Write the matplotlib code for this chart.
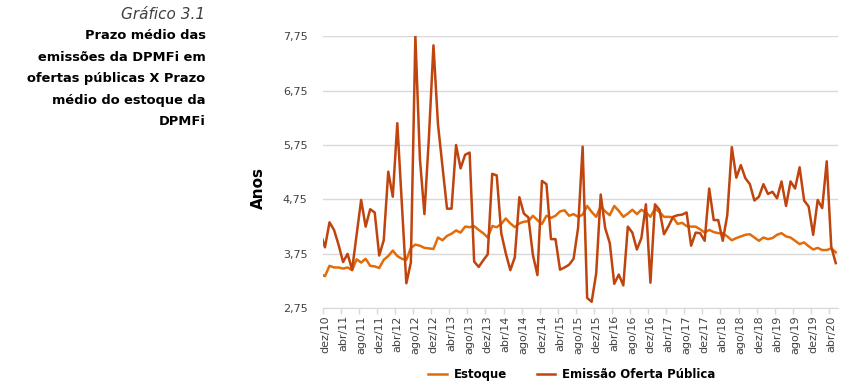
import numpy as np
import matplotlib
matplotlib.use('Agg')
import matplotlib.pyplot as plt

# monthly series, nov/10 (partly hidden at the left edge) to mai/20
estoque = [3.38,
           3.34, 3.53, 3.50, 3.50, 3.48, 3.50, 3.45, 3.65, 3.59, 3.66, 3.53, 3.52,
           3.49, 3.64, 3.71, 3.81, 3.71, 3.66, 3.64, 3.86, 3.92, 3.90, 3.86, 3.85,
           3.84, 4.05, 4.00, 4.08, 4.12, 4.18, 4.14, 4.25, 4.24, 4.26, 4.19, 4.13,
           4.05, 4.26, 4.24, 4.30, 4.40, 4.31, 4.24, 4.31, 4.34, 4.35, 4.45, 4.37,
           4.30, 4.45, 4.41, 4.45, 4.53, 4.55, 4.45, 4.48, 4.43, 4.47, 4.63, 4.52,
           4.43, 4.62, 4.53, 4.46, 4.63, 4.54, 4.43, 4.49, 4.56, 4.48, 4.56, 4.51,
           4.43, 4.58, 4.52, 4.43, 4.43, 4.42, 4.30, 4.32, 4.26, 4.25, 4.25, 4.20,
           4.14, 4.19, 4.15, 4.13, 4.13, 4.07, 4.00, 4.04, 4.07, 4.10, 4.11, 4.05,
           3.99, 4.05, 4.02, 4.04, 4.10, 4.13, 4.07, 4.05, 3.99, 3.93, 3.96, 3.89,
           3.83, 3.86, 3.82, 3.82, 3.85, 3.78]
emissao = [4.13,
           3.87, 4.33, 4.19, 3.92, 3.60, 3.75, 3.46, 4.10, 4.74, 4.25, 4.57, 4.51,
           3.72, 4.00, 5.26, 4.80, 6.15, 4.68, 3.21, 3.59, 7.75, 5.50, 4.48, 5.90,
           7.58, 6.13, 5.35, 4.58, 4.58, 5.75, 5.32, 5.57, 5.61, 3.61, 3.51, 3.63,
           3.74, 5.22, 5.19, 4.13, 3.76, 3.45, 3.69, 4.79, 4.49, 4.42, 3.73, 3.36,
           5.09, 5.03, 4.02, 4.02, 3.46, 3.50, 3.55, 3.66, 4.23, 5.72, 2.94, 2.87,
           3.39, 4.84, 4.22, 3.95, 3.20, 3.37, 3.17, 4.25, 4.14, 3.83, 4.04, 4.66,
           3.22, 4.66, 4.56, 4.11, 4.26, 4.43, 4.46, 4.47, 4.51, 3.90, 4.14, 4.13,
           3.99, 4.95, 4.37, 4.37, 3.99, 4.46, 5.71, 5.15, 5.38, 5.14, 5.03, 4.73,
           4.80, 5.03, 4.85, 4.89, 4.77, 5.08, 4.63, 5.08, 4.95, 5.34, 4.73, 4.62,
           4.10, 4.74, 4.59, 5.45, 3.88, 3.58]
tick_labels = ['dez/10', 'abr/11', 'ago/11', 'dez/11', 'abr/12', 'ago/12', 'dez/12',
               'abr/13', 'ago/13', 'dez/13', 'abr/14', 'ago/14', 'dez/14', 'abr/15',
               'ago/15', 'dez/15', 'abr/16', 'ago/16', 'dez/16', 'abr/17', 'ago/17',
               'dez/17', 'abr/18', 'ago/18', 'dez/18', 'abr/19', 'ago/19', 'dez/19',
               'abr/20']
yticks = [2.75, 3.75, 4.75, 5.75, 6.75, 7.75]

plt.rcParams['font.family'] = ['DejaVu Sans']
fig = plt.figure(figsize=(8.56, 3.88), dpi=100)
ax = fig.add_axes([0.377, 0.2054, 0.602, 0.7016])

x = np.arange(len(estoque)) - 1
ax.plot(x, estoque, color='#E36C0A', lw=1.8, label='Estoque', zorder=3)
ax.plot(x, emissao, color='#C0440E', lw=1.8, label='Emissão Oferta Pública', zorder=4)

n_months = len(estoque) - 1
ax.set_xlim(-0.5, n_months - 0.5)
ax.set_ylim(2.75, 7.75)

ax.set_yticks(yticks)
ax.set_yticklabels([f'{v:.2f}'.replace('.', ',') for v in yticks])
ax.grid(axis='y', color='#D9D9D9', lw=1)
ax.set_axisbelow(True)

# labels centred on categories, tick marks on category boundaries
label_pos = np.arange(len(tick_labels)) * 4
ax.set_xticks(label_pos)
ax.set_xticklabels(tick_labels, rotation=90)
ax.set_xticks(np.arange(len(tick_labels)) * 4 - 0.5, minor=True)
ax.tick_params(axis='x', which='major', length=0, pad=5, labelsize=8, labelcolor='#404040')
ax.tick_params(axis='x', which='minor', length=4, color='#D9D9D9', width=1)
ax.tick_params(axis='y', length=0, pad=11, labelsize=8, labelcolor='#404040')
for s in ['top', 'right', 'left']:
    ax.spines[s].set_visible(False)
ax.spines['bottom'].set_color('#D9D9D9')

fig.text(0.302, 0.515, 'Anos', rotation=90, ha='center', va='center',
         fontsize=11, fontweight='bold', color='black')

# title block on the left
fig.text(0.240, 0.962, 'Gráfico 3.1', ha='right', va='center', fontsize=11,
         style='italic', color='#404040')
title_lines = ['Prazo médio das', 'emissões da DPMFi em', 'ofertas públicas X Prazo',
               'médio do estoque da', 'DPMFi']
for i, line in enumerate(title_lines):
    fig.text(0.240, 0.908 - i * 0.0555, line, ha='right', va='center',
             fontsize=9.4, fontweight='bold', color='black')

leg = fig.legend(loc='center', bbox_to_anchor=(0.668, 0.034), ncol=2, frameon=False,
                 prop={'weight': 'bold', 'size': 8.5}, handlelength=1.6,
                 columnspacing=2.5, handletextpad=0.6)

plt.savefig('out.png', dpi=100)
